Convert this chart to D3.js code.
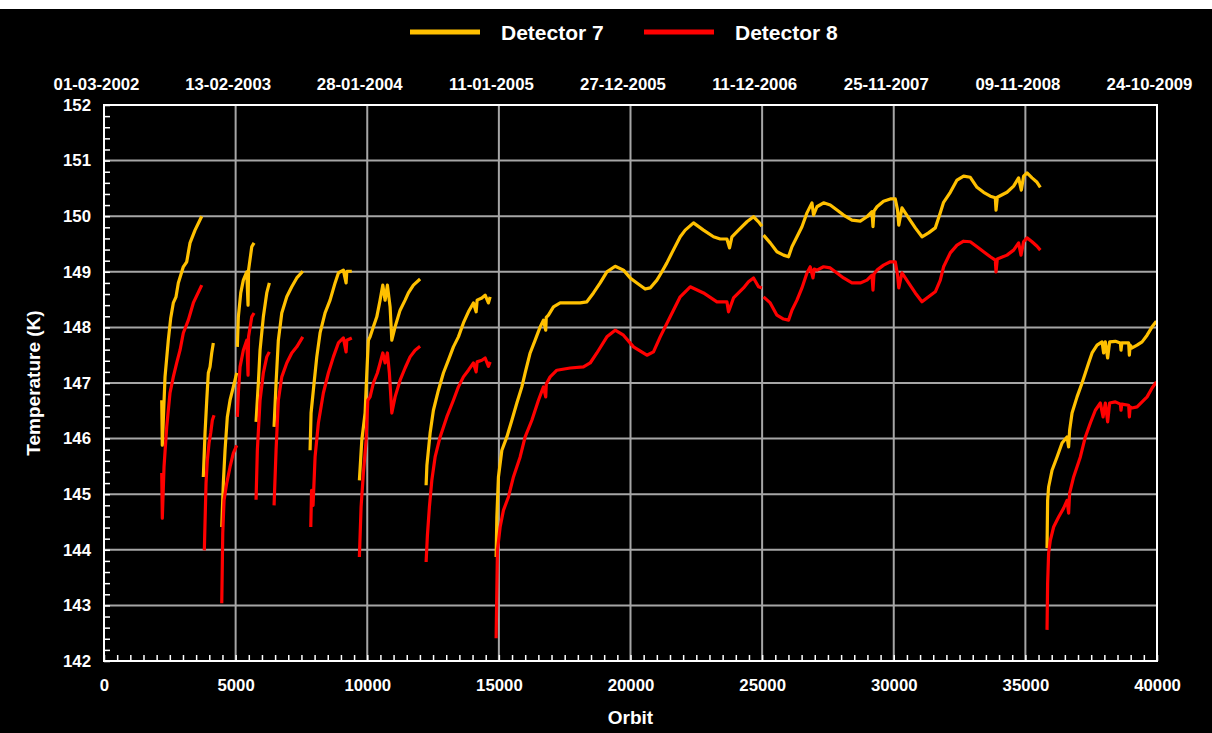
<!DOCTYPE html>
<html>
<head>
<meta charset="utf-8">
<script src="https://cdn.jsdelivr.net/npm/d3@7"></script>
<style>
  html, body { margin: 0; padding: 0; background: #000; }
  svg { display: block; }
  text { font-family: "Liberation Sans", Arial, sans-serif; font-weight: bold; fill: #fff; }
</style>
</head>
<body>
<svg id="chart" width="1212" height="733"></svg>
<script>
// Orbit axis ticks and the matching calendar dates shown along the top
const orbitTicks = [0, 5000, 10000, 15000, 20000, 25000, 30000, 35000, 40000];
const dateLabels = ["01-03-2002", "13-02-2003", "28-01-2004", "11-01-2005", "27-12-2005",
                    "11-12-2006", "25-11-2007", "09-11-2008", "24-10-2009"];
const tempTicks = [142, 143, 144, 145, 146, 147, 148, 149, 150, 151, 152];
const seriesNames = ["Detector 7", "Detector 8"];

// Detector 7 temperature runs: [orbit, temperature K]
const det7Run1 = [[2193,146.69],[2215,145.88],[2318,147.11],[2443,147.77],[2535,148.17],[2633,148.44],[2736,148.55],[2823,148.80],[3013,149.09],[3143,149.18],[3268,149.52],[3458,149.75],[3713,150.00]];
const det7Run2 = [[3773,145.31],[3838,146.10],[3903,146.69],[3963,147.18],[4028,147.29],[4092,147.54],[4153,147.72]];
const det7Run3 = [[4473,144.41],[4533,145.20],[4598,145.79],[4685,146.39],[4788,146.69],[4913,146.93],[5043,147.18]];
const det7Run4 = [[5065,147.65],[5103,148.19],[5195,148.62],[5293,148.85],[5423,149.00],[5472,148.40],[5491,149.03],[5613,149.45],[5700,149.52]];
const det7Run5 = [[5776,146.30],[5863,147.00],[5928,147.59],[6053,148.19],[6183,148.62],[6281,148.80]];
const det7Run6 = [[6460,146.21],[6536,147.00],[6623,147.77],[6753,148.26],[6943,148.55],[7133,148.73],[7323,148.89],[7551,149.01]];
const det7Run7 = [[7828,145.79],[7866,146.46],[7980,147.00],[8083,147.47],[8208,147.90],[8398,148.26],[8588,148.49],[8778,148.80],[8903,148.98],[9093,149.03],[9196,148.80],[9223,149.01],[9413,149.01]];
const det7Run8 = [[9701,145.25],[9793,145.97],[9918,146.46],[9983,147.18],[10043,147.77],[10108,147.83],[10233,148.01],[10363,148.19],[10488,148.49],[10591,148.76],[10678,148.49],[10765,148.76],[10868,148.37],[10933,147.77],[11058,148.01],[11248,148.31],[11438,148.49],[11563,148.62],[11753,148.76],[12008,148.87]];
const det7Run9 = [[12236,145.16],[12266,145.52],[12388,146.10],[12513,146.51],[12703,146.87],[12893,147.18],[13083,147.41],[13273,147.65],[13463,147.83],[13653,148.08],[13843,148.28],[14033,148.44],[14136,148.28],[14174,148.49],[14353,148.53],[14478,148.58],[14603,148.44],[14668,148.55]];
const det7Run10 = [[14896,143.87],[14923,144.59],[14983,145.31],[15113,145.79],[15303,146.03],[15493,146.33],[15683,146.64],[15873,146.93],[15998,147.18],[16188,147.54],[16378,147.77],[16568,148.01],[16693,148.13],[16780,147.95],[16800,148.18],[16883,148.22],[17073,148.37],[17328,148.44],[17708,148.44],[18088,148.44],[18343,148.46],[18593,148.62],[18848,148.80],[19103,149.00],[19418,149.10],[19733,149.03],[19988,148.89],[20243,148.80],[20558,148.69],[20748,148.71],[21003,148.85],[21193,149.00],[21383,149.16],[21573,149.34],[21888,149.63],[22078,149.75],[22393,149.88],[22773,149.75],[23153,149.63],[23408,149.59],[23663,149.59],[23761,149.43],[23853,149.63],[24103,149.75],[24423,149.90],[24673,149.99],[24863,149.90],[24993,149.82]];
const det7Run11 = [[25053,149.66],[25308,149.52],[25563,149.36],[25813,149.30],[26003,149.27],[26133,149.45],[26323,149.63],[26513,149.81],[26703,150.06],[26893,150.24],[26953,150.02],[27083,150.17],[27333,150.24],[27588,150.20],[27843,150.11],[28093,150.02],[28413,149.93],[28728,149.91],[28983,149.99],[29173,150.08],[29211,149.81],[29249,150.09],[29363,150.17],[29613,150.27],[29868,150.31],[30058,150.31],[30145,150.11],[30191,149.84],[30313,150.15],[30563,149.97],[30818,149.79],[31073,149.63],[31323,149.70],[31578,149.79],[31768,150.06],[31893,150.25],[32148,150.43],[32403,150.65],[32653,150.72],[32908,150.70],[33163,150.52],[33413,150.43],[33668,150.36],[33858,150.33],[33885,150.11],[33934,150.34],[34303,150.43],[34553,150.54],[34743,150.69],[34846,150.47],[34933,150.72],[35063,150.78],[35253,150.69],[35443,150.61],[35568,150.52]];
const det7Run12 = [[35823,144.03],[35845,144.89],[35883,145.13],[36013,145.43],[36203,145.67],[36393,145.92],[36583,146.03],[36643,145.85],[36681,146.15],[36773,146.46],[36963,146.75],[37153,147.00],[37278,147.18],[37403,147.36],[37533,147.54],[37723,147.68],[37913,147.74],[37973,147.54],[38038,147.74],[38125,147.45],[38201,147.74],[38418,147.75],[38608,147.72],[38633,147.59],[38664,147.72],[38923,147.72],[38950,147.50],[38980,147.68],[39053,147.63],[39243,147.68],[39433,147.74],[39623,147.86],[39813,148.01],[39976,148.11]];

// Detector 8 temperature runs: [orbit, temperature K]
const det8Run1 = [[2193,145.38],[2215,144.57],[2280,145.49],[2382,146.21],[2507,146.82],[2633,147.11],[2762,147.36],[2888,147.59],[3013,147.90],[3203,148.13],[3393,148.44],[3713,148.76]];
const det8Run2 = [[3811,143.99],[3876,145.20],[3925,145.61],[3990,145.92],[4054,146.10],[4115,146.33],[4180,146.42]];
const det8Run3 = [[4473,143.04],[4511,144.30],[4560,144.89],[4663,145.20],[4788,145.49],[4913,145.74],[5043,145.88]];
const det8Run4 = [[5065,146.39],[5103,146.82],[5168,147.29],[5293,147.59],[5423,147.77],[5472,147.14],[5491,147.83],[5613,148.19],[5700,148.26]];
const det8Run5 = [[5776,144.90],[5825,145.79],[5928,146.69],[6053,147.18],[6183,147.47],[6281,147.56]];
const det8Run6 = [[6460,144.80],[6536,145.79],[6623,146.69],[6753,147.11],[6943,147.36],[7133,147.54],[7323,147.65],[7551,147.83]];
const det8Run7 = [[7855,144.41],[7885,145.07],[7942,144.80],[8018,145.67],[8143,146.28],[8333,146.82],[8523,147.18],[8713,147.47],[8903,147.72],[9093,147.81],[9196,147.56],[9223,147.77],[9413,147.81]];
const det8Run8 = [[9701,143.87],[9766,144.77],[9853,145.38],[9956,145.97],[10021,146.69],[10108,146.75],[10233,147.00],[10385,147.18],[10488,147.36],[10591,147.54],[10678,147.36],[10765,147.54],[10841,147.18],[10933,146.46],[11058,146.75],[11248,147.05],[11438,147.27],[11628,147.47],[11818,147.59],[12008,147.66]];
const det8Run9 = [[12236,143.78],[12285,144.26],[12361,144.77],[12453,145.25],[12578,145.67],[12768,146.03],[13023,146.39],[13273,146.69],[13463,146.93],[13653,147.11],[13843,147.23],[14033,147.36],[14136,147.20],[14174,147.38],[14353,147.41],[14478,147.45],[14603,147.30],[14668,147.38]];
const det8Run10 = [[14896,142.41],[14945,143.99],[15048,144.41],[15173,144.71],[15363,144.95],[15553,145.31],[15808,145.67],[15998,146.03],[16253,146.33],[16503,146.69],[16693,146.93],[16780,146.75],[16800,146.98],[16948,147.11],[17203,147.23],[17708,147.27],[18213,147.29],[18468,147.36],[18723,147.54],[19103,147.83],[19418,147.95],[19733,147.86],[20113,147.65],[20623,147.50],[20873,147.56],[21128,147.83],[21508,148.19],[21888,148.55],[22268,148.73],[22773,148.62],[23283,148.46],[23663,148.46],[23723,148.28],[23913,148.53],[24293,148.71],[24483,148.82],[24673,148.89],[24863,148.73],[24993,148.71]];
const det8Run11 = [[25053,148.55],[25308,148.44],[25563,148.22],[25813,148.15],[26003,148.13],[26133,148.31],[26323,148.49],[26513,148.71],[26703,148.98],[26828,149.09],[26931,148.89],[26980,149.05],[27083,149.03],[27333,149.09],[27588,149.07],[27843,148.98],[28093,148.89],[28413,148.80],[28728,148.80],[28983,148.85],[29173,148.94],[29211,148.67],[29249,148.96],[29363,149.03],[29613,149.12],[29868,149.18],[30058,149.18],[30145,148.94],[30191,148.71],[30313,148.98],[30563,148.80],[30818,148.62],[31073,148.46],[31323,148.55],[31578,148.64],[31768,148.85],[31893,149.09],[32148,149.34],[32403,149.48],[32653,149.55],[32908,149.54],[33163,149.45],[33413,149.36],[33668,149.27],[33858,149.21],[33885,149.00],[33934,149.23],[34303,149.30],[34553,149.39],[34743,149.52],[34834,149.30],[34933,149.54],[35063,149.61],[35253,149.54],[35443,149.46],[35568,149.39]];
const det8Run12 = [[35823,142.56],[35845,143.40],[35883,143.94],[35948,144.17],[36073,144.41],[36263,144.59],[36453,144.75],[36583,144.89],[36643,144.66],[36681,145.02],[36833,145.31],[37088,145.67],[37278,146.03],[37468,146.28],[37658,146.51],[37848,146.64],[37951,146.39],[38038,146.64],[38125,146.30],[38201,146.64],[38418,146.66],[38608,146.62],[38633,146.51],[38664,146.62],[38923,146.60],[38950,146.39],[38980,146.57],[39053,146.55],[39243,146.57],[39433,146.66],[39623,146.75],[39813,146.91],[39976,147.02]];

const det7Runs = [det7Run1, det7Run2, det7Run3, det7Run4, det7Run5, det7Run6, det7Run7, det7Run8, det7Run9, det7Run10, det7Run11, det7Run12];
const det8Runs = [det8Run1, det8Run2, det8Run3, det8Run4, det8Run5, det8Run6, det8Run7, det8Run8, det8Run9, det8Run10, det8Run11, det8Run12];

const colors = { det7: "#FFC000", det8: "#FF0000" };

const svg = d3.select("#chart");
const W = 1212, H = 733;
const plot = { left: 104, right: 1157, top: 105, bottom: 661 };

// Page background: white strip along the top, black chart panel below
svg.append("rect").attr("width", W).attr("height", H).attr("fill", "#fff");
svg.append("rect").attr("y", 9).attr("width", W).attr("height", H - 9).attr("fill", "#000");

const x = d3.scaleLinear().domain([0, 40000]).range([plot.left, plot.right]);
const y = d3.scaleLinear().domain([142, 152]).range([plot.bottom, plot.top]);

// Grid
const grid = svg.append("g").attr("stroke", "#a6a6a6").attr("stroke-width", 2);
grid.selectAll("line.h").data(tempTicks.slice(1, -1)).join("line")
  .attr("x1", plot.left).attr("x2", plot.right)
  .attr("y1", d => y(d)).attr("y2", d => y(d));
grid.selectAll("line.v").data(orbitTicks.slice(1, -1)).join("line")
  .attr("y1", plot.top).attr("y2", plot.bottom)
  .attr("x1", d => x(d)).attr("x2", d => x(d));

// Data lines
const line = d3.line().x(d => x(d[0])).y(d => y(d[1]));
const dataG = svg.append("g").attr("fill", "none").attr("stroke-width", 3.2)
  .attr("stroke-linejoin", "round").attr("stroke-linecap", "butt");
dataG.selectAll("path.d7").data(det7Runs).join("path").attr("class", "d7")
  .attr("stroke", colors.det7).attr("d", line);
dataG.selectAll("path.d8").data(det8Runs).join("path").attr("class", "d8")
  .attr("stroke", colors.det8).attr("d", line);

// Plot frame
svg.append("rect")
  .attr("x", plot.left).attr("y", plot.top)
  .attr("width", plot.right - plot.left).attr("height", plot.bottom - plot.top)
  .attr("fill", "none").attr("stroke", "#fff").attr("stroke-width", 2);

// Minor ticks pointing inward
const leftMinor = svg.append("g").attr("transform", `translate(${plot.left},0)`)
  .call(d3.axisRight(y).tickValues(d3.range(0, 51).map(i => 142 + i * 0.2)).tickSize(6).tickFormat(""));
const bottomMinor = svg.append("g").attr("transform", `translate(0,${plot.bottom})`)
  .call(d3.axisTop(x).tickValues(d3.range(0, 81).map(i => i * 500)).tickSize(6).tickFormat(""));
[leftMinor, bottomMinor].forEach(g => {
  g.select(".domain").remove();
  g.selectAll(".tick line").attr("stroke", "#fff").attr("stroke-width", 1.5);
});

// Tick labels
const leftLabels = svg.append("g").attr("transform", `translate(${plot.left},0)`)
  .call(d3.axisLeft(y).tickValues(tempTicks).tickSize(0).tickPadding(13).tickFormat(d3.format("d")));
const bottomLabels = svg.append("g").attr("transform", `translate(0,${plot.bottom})`)
  .call(d3.axisBottom(x).tickValues(orbitTicks).tickSize(0).tickPadding(18).tickFormat(d3.format("d")));
const topLabels = svg.append("g").attr("transform", `translate(-8,90)`)
  .call(d3.axisTop(x).tickValues(orbitTicks).tickSize(0).tickPadding(0)
    .tickFormat((d, i) => dateLabels[i]));
[leftLabels, bottomLabels, topLabels].forEach(g => {
  g.select(".domain").remove();
  g.selectAll("text").attr("fill", "#fff")
    .style("font-family", '"Liberation Sans", Arial, sans-serif')
    .style("font-weight", "bold").style("font-size", "16.8px");
});
topLabels.selectAll("text").attr("dy", "0");

// Axis titles
svg.append("text").attr("x", (plot.left + plot.right) / 2).attr("y", 724)
  .attr("text-anchor", "middle").style("font-size", "19px").text("Orbit");
svg.append("text").attr("transform", `translate(40,383) rotate(-90)`)
  .attr("text-anchor", "middle").style("font-size", "19px").text("Temperature (K)");

// Legend
const legend = svg.append("g");
const legendItems = [
  { name: seriesNames[0], color: colors.det7, x0: 410 },
  { name: seriesNames[1], color: colors.det8, x0: 644 }
];
legendItems.forEach(it => {
  legend.append("line").attr("x1", it.x0).attr("x2", it.x0 + 70)
    .attr("y1", 32).attr("y2", 32).attr("stroke", it.color).attr("stroke-width", 5);
  legend.append("text").attr("x", it.x0 + 91).attr("y", 39.5)
    .style("font-size", "21px").text(it.name);
});
</script>
</body>
</html>
